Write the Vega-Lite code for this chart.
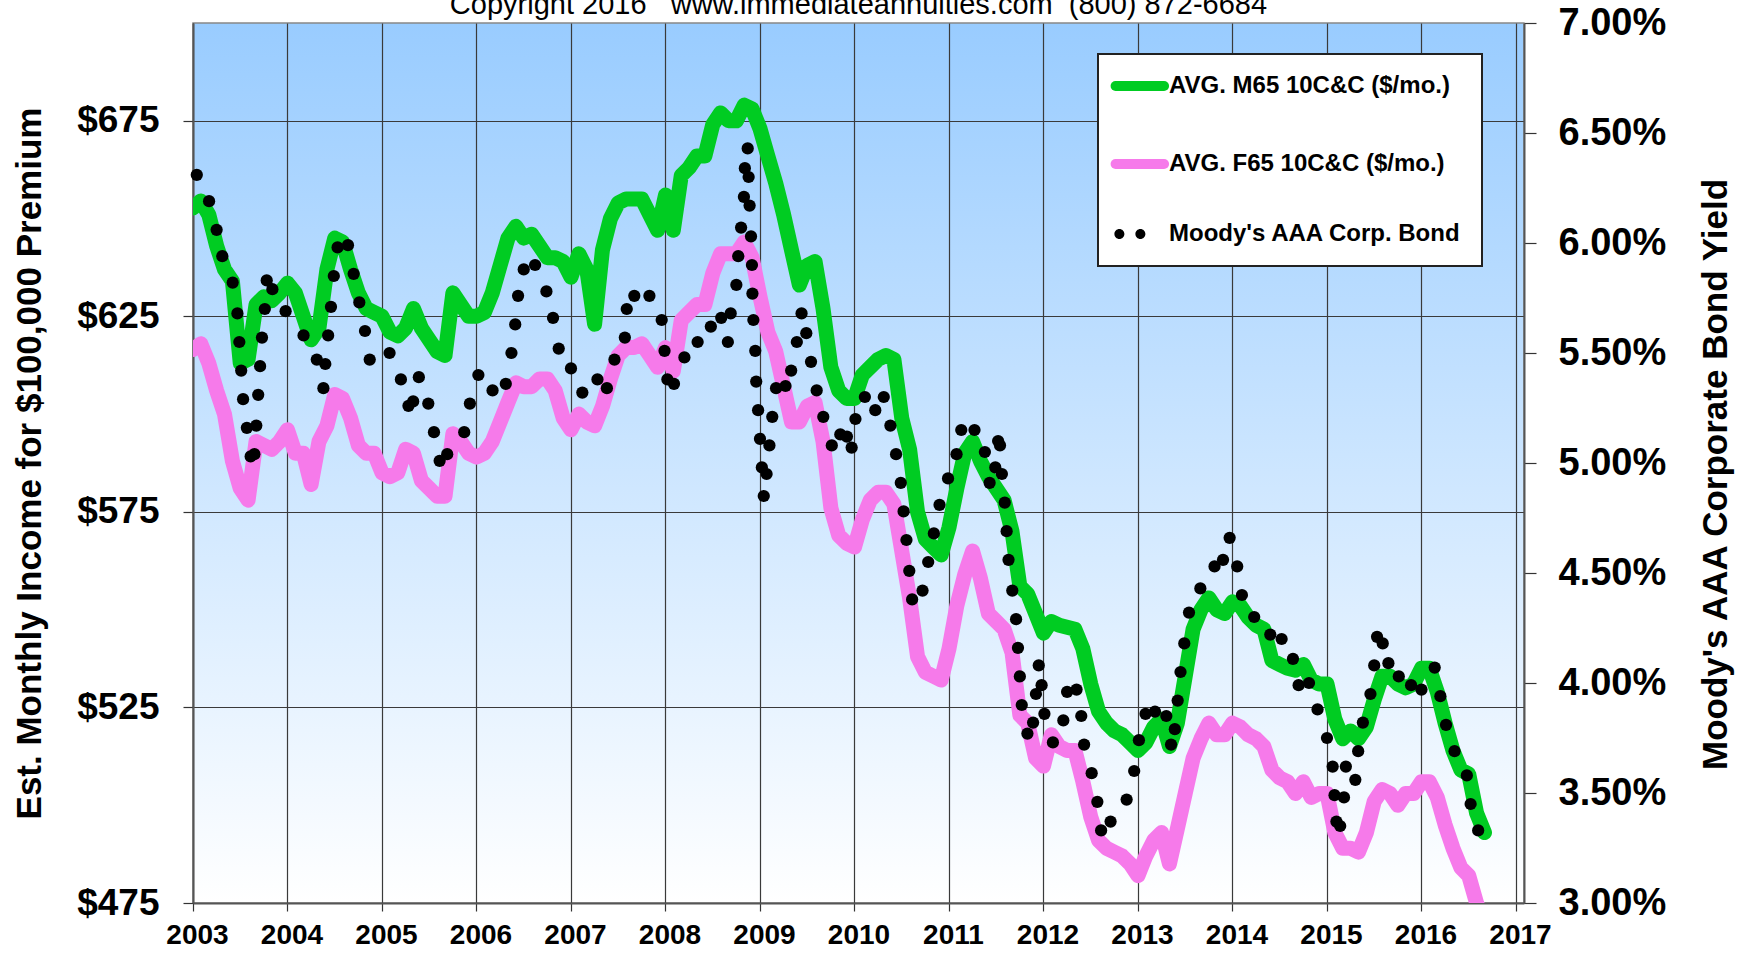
{
"$schema": "https://vega.github.io/schema/vega-lite/v6.json",
"width": 1331, "height": 880,
"autosize": "none",
"padding": {"left": 193, "top": 23, "right": 222, "bottom": 50},
"background": "white",
"title": {"text": "Copyright 2016\u00a0\u00a0\u00a0www.immediateannuities.com\u00a0\u00a0(800) 872-6684", "anchor": "middle", "frame": "group", "fontSize": 29, "fontWeight": "normal", "font": "Liberation Sans", "color": "black", "baseline": "alphabetic", "offset": -39},
"view": {"fill": {"gradient": "linear", "x1": 0, "y1": 0, "x2": 0, "y2": 1, "stops": [{"offset": 0, "color": "#99ccff"}, {"offset": 1, "color": "#ffffff"}]}, "stroke": "#888", "strokeWidth": 1.5},
"datasets": {
"lines": [
{"t":2003.000,"s":"M","v":652.7},{"t":2003.083,"s":"M","v":654.5},{"t":2003.167,"s":"M","v":651},{"t":2003.250,"s":"M","v":643},{"t":2003.333,"s":"M","v":637},{"t":2003.417,"s":"M","v":634},{"t":2003.500,"s":"M","v":613},{"t":2003.583,"s":"M","v":614},{"t":2003.667,"s":"M","v":628},{"t":2003.750,"s":"M","v":630},{"t":2003.833,"s":"M","v":629},{"t":2003.917,"s":"M","v":631},
{"t":2004.000,"s":"M","v":633.5},{"t":2004.083,"s":"M","v":631},{"t":2004.167,"s":"M","v":625},{"t":2004.250,"s":"M","v":619},{"t":2004.333,"s":"M","v":622},{"t":2004.417,"s":"M","v":637},{"t":2004.500,"s":"M","v":645},{"t":2004.583,"s":"M","v":644},{"t":2004.667,"s":"M","v":637},{"t":2004.750,"s":"M","v":631},{"t":2004.833,"s":"M","v":627},{"t":2004.917,"s":"M","v":626},
{"t":2005.000,"s":"M","v":625},{"t":2005.083,"s":"M","v":621},{"t":2005.167,"s":"M","v":620},{"t":2005.250,"s":"M","v":622},{"t":2005.333,"s":"M","v":627},{"t":2005.417,"s":"M","v":622},{"t":2005.500,"s":"M","v":619},{"t":2005.583,"s":"M","v":616},{"t":2005.667,"s":"M","v":615},{"t":2005.750,"s":"M","v":631},{"t":2005.833,"s":"M","v":628},{"t":2005.917,"s":"M","v":625},
{"t":2006.000,"s":"M","v":625},{"t":2006.083,"s":"M","v":626},{"t":2006.167,"s":"M","v":631},{"t":2006.250,"s":"M","v":638},{"t":2006.333,"s":"M","v":645},{"t":2006.417,"s":"M","v":648},{"t":2006.500,"s":"M","v":645},{"t":2006.583,"s":"M","v":646},{"t":2006.667,"s":"M","v":643},{"t":2006.750,"s":"M","v":640},{"t":2006.833,"s":"M","v":640},{"t":2006.917,"s":"M","v":639},
{"t":2007.000,"s":"M","v":635},{"t":2007.083,"s":"M","v":641},{"t":2007.167,"s":"M","v":637},{"t":2007.250,"s":"M","v":623},{"t":2007.333,"s":"M","v":642},{"t":2007.417,"s":"M","v":650},{"t":2007.500,"s":"M","v":654},{"t":2007.583,"s":"M","v":655},{"t":2007.667,"s":"M","v":655},{"t":2007.750,"s":"M","v":655},{"t":2007.833,"s":"M","v":651},{"t":2007.917,"s":"M","v":647},
{"t":2008.000,"s":"M","v":656},{"t":2008.083,"s":"M","v":647},{"t":2008.167,"s":"M","v":661},{"t":2008.250,"s":"M","v":663},{"t":2008.333,"s":"M","v":666},{"t":2008.417,"s":"M","v":666},{"t":2008.500,"s":"M","v":674},{"t":2008.583,"s":"M","v":677},{"t":2008.667,"s":"M","v":675},{"t":2008.750,"s":"M","v":675},{"t":2008.833,"s":"M","v":679},{"t":2008.917,"s":"M","v":678},
{"t":2009.000,"s":"M","v":673},{"t":2009.083,"s":"M","v":666},{"t":2009.167,"s":"M","v":659},{"t":2009.250,"s":"M","v":651},{"t":2009.333,"s":"M","v":642},{"t":2009.417,"s":"M","v":633},{"t":2009.500,"s":"M","v":638},{"t":2009.583,"s":"M","v":639},{"t":2009.667,"s":"M","v":627},{"t":2009.750,"s":"M","v":612},{"t":2009.833,"s":"M","v":606},{"t":2009.917,"s":"M","v":604},
{"t":2010.000,"s":"M","v":604},{"t":2010.083,"s":"M","v":610},{"t":2010.167,"s":"M","v":612},{"t":2010.250,"s":"M","v":614},{"t":2010.333,"s":"M","v":615},{"t":2010.417,"s":"M","v":614},{"t":2010.500,"s":"M","v":599},{"t":2010.583,"s":"M","v":591},{"t":2010.667,"s":"M","v":575},{"t":2010.750,"s":"M","v":568},{"t":2010.833,"s":"M","v":566},{"t":2010.917,"s":"M","v":564},
{"t":2011.000,"s":"M","v":571},{"t":2011.083,"s":"M","v":581},{"t":2011.167,"s":"M","v":590},{"t":2011.250,"s":"M","v":593},{"t":2011.333,"s":"M","v":588},{"t":2011.417,"s":"M","v":584},{"t":2011.500,"s":"M","v":581},{"t":2011.583,"s":"M","v":578},{"t":2011.667,"s":"M","v":570},{"t":2011.750,"s":"M","v":556},{"t":2011.833,"s":"M","v":554},{"t":2011.917,"s":"M","v":549},
{"t":2012.000,"s":"M","v":544},{"t":2012.083,"s":"M","v":547},{"t":2012.167,"s":"M","v":546},{"t":2012.250,"s":"M","v":545.5},{"t":2012.333,"s":"M","v":545},{"t":2012.417,"s":"M","v":540},{"t":2012.500,"s":"M","v":531},{"t":2012.583,"s":"M","v":524},{"t":2012.667,"s":"M","v":521},{"t":2012.750,"s":"M","v":519},{"t":2012.833,"s":"M","v":518},{"t":2012.917,"s":"M","v":516},
{"t":2013.000,"s":"M","v":514},{"t":2013.083,"s":"M","v":516},{"t":2013.167,"s":"M","v":520},{"t":2013.250,"s":"M","v":522},{"t":2013.333,"s":"M","v":515},{"t":2013.417,"s":"M","v":521},{"t":2013.500,"s":"M","v":533},{"t":2013.583,"s":"M","v":545},{"t":2013.667,"s":"M","v":550},{"t":2013.750,"s":"M","v":553},{"t":2013.833,"s":"M","v":550},{"t":2013.917,"s":"M","v":549},
{"t":2014.000,"s":"M","v":552},{"t":2014.083,"s":"M","v":551},{"t":2014.167,"s":"M","v":548},{"t":2014.250,"s":"M","v":546},{"t":2014.333,"s":"M","v":545},{"t":2014.417,"s":"M","v":537},{"t":2014.500,"s":"M","v":536},{"t":2014.583,"s":"M","v":535},{"t":2014.667,"s":"M","v":534.5},{"t":2014.750,"s":"M","v":536},{"t":2014.833,"s":"M","v":532},{"t":2014.917,"s":"M","v":531},
{"t":2015.000,"s":"M","v":531},{"t":2015.083,"s":"M","v":522},{"t":2015.167,"s":"M","v":517},{"t":2015.250,"s":"M","v":519},{"t":2015.333,"s":"M","v":517},{"t":2015.417,"s":"M","v":520},{"t":2015.500,"s":"M","v":527},{"t":2015.583,"s":"M","v":533},{"t":2015.667,"s":"M","v":533},{"t":2015.750,"s":"M","v":531},{"t":2015.833,"s":"M","v":530},{"t":2015.917,"s":"M","v":531},
{"t":2016.000,"s":"M","v":535},{"t":2016.083,"s":"M","v":535},{"t":2016.167,"s":"M","v":529},{"t":2016.250,"s":"M","v":521},{"t":2016.333,"s":"M","v":514},{"t":2016.417,"s":"M","v":509},{"t":2016.500,"s":"M","v":508},{"t":2016.583,"s":"M","v":498},{"t":2016.667,"s":"M","v":493},
{"t":2003.000,"s":"F","v":616.5},{"t":2003.083,"s":"F","v":618},{"t":2003.167,"s":"F","v":613},{"t":2003.250,"s":"F","v":606},{"t":2003.333,"s":"F","v":600},{"t":2003.417,"s":"F","v":588},{"t":2003.500,"s":"F","v":581},{"t":2003.583,"s":"F","v":578},{"t":2003.667,"s":"F","v":593},{"t":2003.750,"s":"F","v":592},{"t":2003.833,"s":"F","v":591},{"t":2003.917,"s":"F","v":593},
{"t":2004.000,"s":"F","v":596},{"t":2004.083,"s":"F","v":590},{"t":2004.167,"s":"F","v":590},{"t":2004.250,"s":"F","v":582},{"t":2004.333,"s":"F","v":593},{"t":2004.417,"s":"F","v":597},{"t":2004.500,"s":"F","v":605},{"t":2004.583,"s":"F","v":604},{"t":2004.667,"s":"F","v":599},{"t":2004.750,"s":"F","v":592},{"t":2004.833,"s":"F","v":590},{"t":2004.917,"s":"F","v":590},
{"t":2005.000,"s":"F","v":585},{"t":2005.083,"s":"F","v":584},{"t":2005.167,"s":"F","v":585},{"t":2005.250,"s":"F","v":591},{"t":2005.333,"s":"F","v":590},{"t":2005.417,"s":"F","v":583},{"t":2005.500,"s":"F","v":581},{"t":2005.583,"s":"F","v":579},{"t":2005.667,"s":"F","v":579},{"t":2005.750,"s":"F","v":595},{"t":2005.833,"s":"F","v":593},{"t":2005.917,"s":"F","v":590},
{"t":2006.000,"s":"F","v":589},{"t":2006.083,"s":"F","v":590},{"t":2006.167,"s":"F","v":593},{"t":2006.250,"s":"F","v":598},{"t":2006.333,"s":"F","v":603},{"t":2006.417,"s":"F","v":608},{"t":2006.500,"s":"F","v":607},{"t":2006.583,"s":"F","v":607},{"t":2006.667,"s":"F","v":609},{"t":2006.750,"s":"F","v":609},{"t":2006.833,"s":"F","v":606},{"t":2006.917,"s":"F","v":599},
{"t":2007.000,"s":"F","v":596},{"t":2007.083,"s":"F","v":600},{"t":2007.167,"s":"F","v":598},{"t":2007.250,"s":"F","v":597},{"t":2007.333,"s":"F","v":602},{"t":2007.417,"s":"F","v":609},{"t":2007.500,"s":"F","v":615},{"t":2007.583,"s":"F","v":617},{"t":2007.667,"s":"F","v":617},{"t":2007.750,"s":"F","v":618},{"t":2007.833,"s":"F","v":615},{"t":2007.917,"s":"F","v":612},
{"t":2008.000,"s":"F","v":617},{"t":2008.083,"s":"F","v":611},{"t":2008.167,"s":"F","v":624},{"t":2008.250,"s":"F","v":626},{"t":2008.333,"s":"F","v":628},{"t":2008.417,"s":"F","v":628},{"t":2008.500,"s":"F","v":636},{"t":2008.583,"s":"F","v":641},{"t":2008.667,"s":"F","v":641},{"t":2008.750,"s":"F","v":641},{"t":2008.833,"s":"F","v":644},{"t":2008.917,"s":"F","v":640},
{"t":2009.000,"s":"F","v":630},{"t":2009.083,"s":"F","v":621},{"t":2009.167,"s":"F","v":616},{"t":2009.250,"s":"F","v":607},{"t":2009.333,"s":"F","v":598},{"t":2009.417,"s":"F","v":598},{"t":2009.500,"s":"F","v":602},{"t":2009.583,"s":"F","v":603},{"t":2009.667,"s":"F","v":593},{"t":2009.750,"s":"F","v":576},{"t":2009.833,"s":"F","v":569},{"t":2009.917,"s":"F","v":567},
{"t":2010.000,"s":"F","v":566},{"t":2010.083,"s":"F","v":573},{"t":2010.167,"s":"F","v":578},{"t":2010.250,"s":"F","v":580},{"t":2010.333,"s":"F","v":580},{"t":2010.417,"s":"F","v":577},{"t":2010.500,"s":"F","v":565},{"t":2010.583,"s":"F","v":553},{"t":2010.667,"s":"F","v":538},{"t":2010.750,"s":"F","v":534},{"t":2010.833,"s":"F","v":533},{"t":2010.917,"s":"F","v":532},
{"t":2011.000,"s":"F","v":540},{"t":2011.083,"s":"F","v":551},{"t":2011.167,"s":"F","v":559},{"t":2011.250,"s":"F","v":565},{"t":2011.333,"s":"F","v":558},{"t":2011.417,"s":"F","v":549},{"t":2011.500,"s":"F","v":547},{"t":2011.583,"s":"F","v":545},{"t":2011.667,"s":"F","v":539},{"t":2011.750,"s":"F","v":523},{"t":2011.833,"s":"F","v":521},{"t":2011.917,"s":"F","v":512},
{"t":2012.000,"s":"F","v":510},{"t":2012.083,"s":"F","v":518},{"t":2012.167,"s":"F","v":515},{"t":2012.250,"s":"F","v":514},{"t":2012.333,"s":"F","v":514},{"t":2012.417,"s":"F","v":506},{"t":2012.500,"s":"F","v":497},{"t":2012.583,"s":"F","v":491},{"t":2012.667,"s":"F","v":489},{"t":2012.750,"s":"F","v":488},{"t":2012.833,"s":"F","v":487},{"t":2012.917,"s":"F","v":485},
{"t":2013.000,"s":"F","v":482},{"t":2013.083,"s":"F","v":487},{"t":2013.167,"s":"F","v":491},{"t":2013.250,"s":"F","v":493},{"t":2013.333,"s":"F","v":485},{"t":2013.417,"s":"F","v":494},{"t":2013.500,"s":"F","v":503},{"t":2013.583,"s":"F","v":512},{"t":2013.667,"s":"F","v":517},{"t":2013.750,"s":"F","v":521},{"t":2013.833,"s":"F","v":518},{"t":2013.917,"s":"F","v":518},
{"t":2014.000,"s":"F","v":521},{"t":2014.083,"s":"F","v":520},{"t":2014.167,"s":"F","v":518},{"t":2014.250,"s":"F","v":517},{"t":2014.333,"s":"F","v":515},{"t":2014.417,"s":"F","v":509},{"t":2014.500,"s":"F","v":507},{"t":2014.583,"s":"F","v":506},{"t":2014.667,"s":"F","v":503},{"t":2014.750,"s":"F","v":506},{"t":2014.833,"s":"F","v":502},{"t":2014.917,"s":"F","v":503},
{"t":2015.000,"s":"F","v":503},{"t":2015.083,"s":"F","v":493},{"t":2015.167,"s":"F","v":489},{"t":2015.250,"s":"F","v":489},{"t":2015.333,"s":"F","v":488},{"t":2015.417,"s":"F","v":493},{"t":2015.500,"s":"F","v":501},{"t":2015.583,"s":"F","v":504},{"t":2015.667,"s":"F","v":503},{"t":2015.750,"s":"F","v":500},{"t":2015.833,"s":"F","v":503},{"t":2015.917,"s":"F","v":503},
{"t":2016.000,"s":"F","v":506},{"t":2016.083,"s":"F","v":506},{"t":2016.167,"s":"F","v":502},{"t":2016.250,"s":"F","v":495},{"t":2016.333,"s":"F","v":489},{"t":2016.417,"s":"F","v":484},{"t":2016.500,"s":"F","v":482},{"t":2016.583,"s":"F","v":475},{"t":2016.667,"s":"F","v":470}
],
"bond": [
{"t":2003.04,"p":6.31},{"t":2003.17,"p":6.19},{"t":2003.25,"p":6.06},{"t":2003.31,"p":5.94},{"t":2003.42,"p":5.82},{"t":2003.47,"p":5.68},{"t":2003.49,"p":5.55},{"t":2003.51,"p":5.42},{"t":2003.53,"p":5.29},{"t":2003.57,"p":5.16},{"t":2003.61,"p":5.03},{"t":2003.65,"p":5.04},{"t":2003.67,"p":5.17},{"t":2003.69,"p":5.31},{"t":2003.71,"p":5.44},{"t":2003.73,"p":5.57},{"t":2003.76,"p":5.70},{"t":2003.78,"p":5.83},{"t":2003.84,"p":5.79},{"t":2003.98,"p":5.69},
{"t":2004.17,"p":5.58},{"t":2004.31,"p":5.47},{"t":2004.38,"p":5.34},{"t":2004.40,"p":5.45},{"t":2004.43,"p":5.58},{"t":2004.46,"p":5.71},{"t":2004.49,"p":5.85},{"t":2004.53,"p":5.98},{"t":2004.64,"p":5.99},{"t":2004.70,"p":5.86},{"t":2004.76,"p":5.73},{"t":2004.82,"p":5.60},{"t":2004.87,"p":5.47},
{"t":2005.08,"p":5.50},{"t":2005.20,"p":5.38},{"t":2005.28,"p":5.26},{"t":2005.33,"p":5.28},{"t":2005.39,"p":5.39},{"t":2005.49,"p":5.27},{"t":2005.55,"p":5.14},{"t":2005.61,"p":5.01},{"t":2005.69,"p":5.04},{"t":2005.87,"p":5.14},{"t":2005.93,"p":5.27},
{"t":2006.02,"p":5.40},{"t":2006.17,"p":5.33},{"t":2006.31,"p":5.36},{"t":2006.37,"p":5.50},{"t":2006.41,"p":5.63},{"t":2006.44,"p":5.76},{"t":2006.50,"p":5.88},{"t":2006.62,"p":5.90},{"t":2006.74,"p":5.78},{"t":2006.81,"p":5.66},{"t":2006.87,"p":5.52},
{"t":2007.00,"p":5.43},{"t":2007.12,"p":5.32},{"t":2007.28,"p":5.38},{"t":2007.38,"p":5.34},{"t":2007.46,"p":5.47},{"t":2007.57,"p":5.57},{"t":2007.59,"p":5.70},{"t":2007.67,"p":5.76},{"t":2007.83,"p":5.76},{"t":2007.96,"p":5.65},{"t":2007.99,"p":5.51},
{"t":2008.02,"p":5.38},{"t":2008.09,"p":5.36},{"t":2008.20,"p":5.48},{"t":2008.34,"p":5.55},{"t":2008.48,"p":5.62},{"t":2008.59,"p":5.66},{"t":2008.66,"p":5.55},{"t":2008.69,"p":5.68},{"t":2008.75,"p":5.81},{"t":2008.77,"p":5.94},{"t":2008.80,"p":6.07},{"t":2008.83,"p":6.21},{"t":2008.84,"p":6.34},{"t":2008.87,"p":6.43},{"t":2008.88,"p":6.30},{"t":2008.89,"p":6.17},{"t":2008.905,"p":6.03},{"t":2008.915,"p":5.90},{"t":2008.92,"p":5.77},{"t":2008.93,"p":5.65},{"t":2008.95,"p":5.51},{"t":2008.96,"p":5.37},{"t":2008.98,"p":5.24},
{"t":2009.00,"p":5.11},{"t":2009.02,"p":4.98},{"t":2009.04,"p":4.85},{"t":2009.07,"p":4.95},{"t":2009.10,"p":5.08},{"t":2009.13,"p":5.21},{"t":2009.17,"p":5.34},{"t":2009.27,"p":5.35},{"t":2009.33,"p":5.42},{"t":2009.39,"p":5.55},{"t":2009.44,"p":5.68},{"t":2009.49,"p":5.59},{"t":2009.54,"p":5.46},{"t":2009.60,"p":5.33},{"t":2009.67,"p":5.21},{"t":2009.76,"p":5.08},{"t":2009.85,"p":5.13},{"t":2009.92,"p":5.12},{"t":2009.97,"p":5.07},
{"t":2010.01,"p":5.20},{"t":2010.11,"p":5.30},{"t":2010.22,"p":5.24},{"t":2010.31,"p":5.30},{"t":2010.38,"p":5.17},{"t":2010.44,"p":5.04},{"t":2010.49,"p":4.91},{"t":2010.52,"p":4.78},{"t":2010.55,"p":4.65},{"t":2010.58,"p":4.51},{"t":2010.61,"p":4.38},{"t":2010.72,"p":4.42},{"t":2010.78,"p":4.55},{"t":2010.84,"p":4.68},{"t":2010.90,"p":4.81},{"t":2010.99,"p":4.93},
{"t":2011.08,"p":5.04},{"t":2011.13,"p":5.15},{"t":2011.27,"p":5.15},{"t":2011.38,"p":5.05},{"t":2011.43,"p":4.91},{"t":2011.49,"p":4.98},{"t":2011.52,"p":5.10},{"t":2011.54,"p":5.08},{"t":2011.56,"p":4.95},{"t":2011.59,"p":4.82},{"t":2011.61,"p":4.69},{"t":2011.63,"p":4.56},{"t":2011.67,"p":4.42},{"t":2011.71,"p":4.29},{"t":2011.73,"p":4.16},{"t":2011.75,"p":4.03},{"t":2011.77,"p":3.90},{"t":2011.83,"p":3.77},{"t":2011.89,"p":3.82},{"t":2011.92,"p":3.95},{"t":2011.95,"p":4.08},{"t":2011.98,"p":3.99},
{"t":2012.01,"p":3.86},{"t":2012.10,"p":3.73},{"t":2012.21,"p":3.83},{"t":2012.25,"p":3.96},{"t":2012.35,"p":3.97},{"t":2012.40,"p":3.85},{"t":2012.43,"p":3.72},{"t":2012.51,"p":3.59},{"t":2012.57,"p":3.46},{"t":2012.61,"p":3.33},{"t":2012.71,"p":3.37},{"t":2012.88,"p":3.47},{"t":2012.96,"p":3.60},
{"t":2013.01,"p":3.74},{"t":2013.08,"p":3.86},{"t":2013.18,"p":3.87},{"t":2013.30,"p":3.85},{"t":2013.35,"p":3.72},{"t":2013.39,"p":3.79},{"t":2013.42,"p":3.92},{"t":2013.45,"p":4.05},{"t":2013.49,"p":4.18},{"t":2013.54,"p":4.32},{"t":2013.66,"p":4.43},{"t":2013.81,"p":4.53},{"t":2013.90,"p":4.56},{"t":2013.97,"p":4.66},
{"t":2014.05,"p":4.53},{"t":2014.10,"p":4.40},{"t":2014.23,"p":4.30},{"t":2014.40,"p":4.22},{"t":2014.52,"p":4.20},{"t":2014.64,"p":4.11},{"t":2014.70,"p":3.99},{"t":2014.81,"p":4.00},{"t":2014.90,"p":3.88},
{"t":2015.00,"p":3.75},{"t":2015.06,"p":3.62},{"t":2015.08,"p":3.49},{"t":2015.10,"p":3.37},{"t":2015.14,"p":3.35},{"t":2015.18,"p":3.48},{"t":2015.20,"p":3.62},{"t":2015.30,"p":3.56},{"t":2015.33,"p":3.69},{"t":2015.38,"p":3.82},{"t":2015.46,"p":3.95},{"t":2015.50,"p":4.08},{"t":2015.53,"p":4.21},{"t":2015.59,"p":4.18},{"t":2015.65,"p":4.09},{"t":2015.76,"p":4.03},{"t":2015.89,"p":3.99},
{"t":2016.00,"p":3.97},{"t":2016.14,"p":4.07},{"t":2016.20,"p":3.94},{"t":2016.26,"p":3.81},{"t":2016.35,"p":3.69},{"t":2016.48,"p":3.58},{"t":2016.52,"p":3.45},{"t":2016.60,"p":3.33}
]
},
"layer": [
{
"data": {"name": "lines"},
"mark": {"type": "line", "strokeWidth": 15, "strokeCap": "round", "strokeJoin": "round", "clip": true},
"encoding": {
"x": {"field": "t", "type": "quantitative", "scale": {"domain": [2003, 2017.085], "nice": false, "zero": false},
 "axis": {"title": null, "values": [2003,2004,2005,2006,2007,2008,2009,2010,2011,2012,2013,2014,2015,2016,2017], "format": "d", "labelFontSize": 28, "tickSize": 8, "labelPadding": 10, "labelOffset": 4, "grid": true, "labelOverlap": false, "labelBound": false, "labelFlush": false}},
"y": {"field": "v", "type": "quantitative", "scale": {"domain": [475, 700], "nice": false, "zero": false},
 "axis": {"title": "Est. Monthly Income for $100,000 Premium", "values": [475,525,575,625,675], "labelExpr": "'$' + datum.value", "labelFontSize": 37, "tickSize": 10, "labelPadding": 24, "grid": true, "titleFontSize": 35, "titleAngle": -90, "titleX": -153, "titleY": 440, "titleBaseline": "alphabetic", "titleAlign": "center"}},
"color": {"field": "s", "type": "nominal",
 "scale": {"domain": ["M", "F", "B"], "range": ["#00cc22", "#f67aea", "#000000"]},
 "legend": {"orient": "none", "legendX": 905, "legendY": 31, "title": null, "direction": "vertical",
  "labelExpr": "datum.value === 'M' ? 'AVG. M65 10C&C ($/mo.)' : datum.value === 'F' ? 'AVG. F65 10C&C ($/mo.)' : \"Moody's AAA Corp. Bond\"",
  "symbolType": "stroke", "symbolSize": 900, "symbolStrokeWidth": 10,
  "labelFontSize": 24, "labelFont": "Liberation Sans", "labelFontWeight": "bold", "labelColor": "black", "labelLimit": 500,
  "padding": 20, "rowPadding": 38, "labelOffset": 27, "fillColor": "white", "strokeColor": "#222",
  "encode": {
   "legend": {"update": {"strokeWidth": {"value": 2}}},
   "symbols": {"update": {
    "shape": {"signal": "datum.value === 'B' ? 'M-1.04,0a0.333,0.333 0 1,0 0.666,0a0.333,0.333 0 1,0 -0.666,0M0.36,0a0.333,0.333 0 1,0 0.666,0a0.333,0.333 0 1,0 -0.666,0' : 'M-0.96,0L2.27,0'"},
    "fill": {"signal": "datum.value === 'B' ? 'black' : 'transparent'"},
    "strokeWidth": {"signal": "datum.value === 'B' ? 0 : 10"},
    "strokeCap": {"value": "round"},
    "opacity": {"value": 1}
   }}
  }}
}
}
},
{
"data": {"name": "bond"},
"mark": {"type": "circle", "size": 150, "color": "black", "opacity": 1},
"encoding": {
"x": {"field": "t", "type": "quantitative"},
"y": {"field": "p", "type": "quantitative", "scale": {"domain": [3, 7], "nice": false, "zero": false},
 "axis": {"orient": "right", "title": "Moody's AAA Corporate Bond Yield", "values": [3,3.5,4,4.5,5,5.5,6,6.5,7], "labelExpr": "format(datum.value, '.2f') + '%'", "labelFontSize": 38, "tickSize": 12, "labelPadding": 22, "grid": false, "titleFontSize": 35, "titleAngle": -90, "titleX": 202, "titleY": 451, "titleBaseline": "alphabetic", "titleAlign": "center"}}
}
}
],
"resolve": {"scale": {"y": "independent"}},
"config": {
"font": "Liberation Sans",
"axis": {"labelFont": "Liberation Sans", "labelFontWeight": "bold", "labelColor": "black", "titleFont": "Liberation Sans", "titleFontWeight": "bold", "titleColor": "black", "tickColor": "#333", "tickWidth": 1.2, "domainColor": "#555", "domainWidth": 2, "gridColor": "#3a3a3a", "gridWidth": 1.2, "gridOpacity": 1}
}
}
